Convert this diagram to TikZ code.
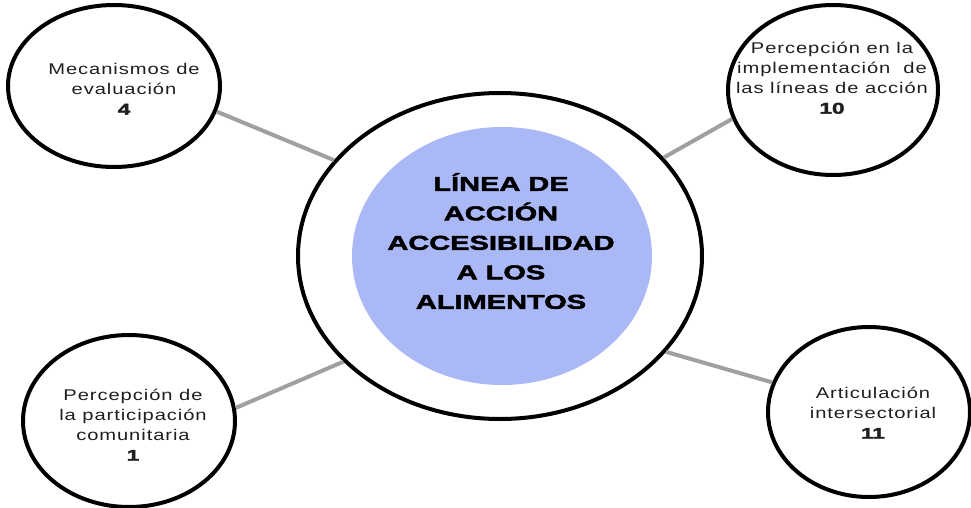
\documentclass[tikz,border=0pt]{standalone}
\usepackage{fontspec}
\usetikzlibrary{shapes.geometric}
\newfontfamily\satfont{Liberation Sans}[FakeStretch=1.3,LetterSpace=6]
\newfontfamily\titlefont{Liberation Sans}[FakeStretch=1.45,FakeBold=2.5]
\definecolor{blueish}{RGB}{170,184,246}
\definecolor{conn}{RGB}{160,160,160}
\newcommand{\numtxt}[1]{{\titlefont\bfseries #1}}
\begin{document}
\begin{tikzpicture}[x=1pt,y=-1pt,
  ring/.style={draw=black, line width=4pt, ellipse, inner sep=0pt},
  lbl/.style={font=\satfont\fontsize{15.5}{20}\selectfont, align=center, text=black!88, inner sep=0pt},
  ttl/.style={font=\titlefont\bfseries\fontsize{20}{29.5}\selectfont, align=center, inner sep=0pt},
  link/.style={draw=conn, line width=4pt}]
\useasboundingbox[fill=white] (0,0) rectangle (971,508);
% hub
\node[ring, minimum width=404pt, minimum height=326pt] (hub) at (500,256) {};
\node[fill=blueish, ellipse, minimum width=300pt, minimum height=258pt, inner sep=0pt] (core) at (502,256) {};
\node[ttl] (title) at (501,241) {LÍNEA DE\\ACCIÓN\\ACCESIBILIDAD\\A LOS\\ALIMENTOS};
% satellites
\node[ring, minimum width=212pt, minimum height=162pt] (tl) at (114,86) {};
\node[ring, minimum width=210pt, minimum height=170pt] (tr) at (833,90) {};
\node[ring, minimum width=212pt, minimum height=172pt] (bl) at (129,421) {};
\node[ring, minimum width=202pt, minimum height=170pt] (br) at (869,412) {};
% labels
\node[lbl] (tlt) at (124,89) {Mecanismos de\\evaluación\\\numtxt{4}};
\node[lbl] (trt) at (832,78) {Percepción en la\\implementación~ de\\las líneas de acción\\\numtxt{10}};
\node[lbl] (blt) at (133,425) {Percepción de\\la participación\\comunitaria\\\numtxt{1}};
\node[lbl] (brt) at (873,413) {Articulación\\intersectorial\\\numtxt{11}};
% connectors
\draw[link] (tl.-14) -- (hub.150);
\draw[link] (tr.-164) -- (hub.31);
\draw[link] (bl.7) -- (hub.214);
\draw[link] (br.163) -- (hub.-30);
\end{tikzpicture}
\end{document}
